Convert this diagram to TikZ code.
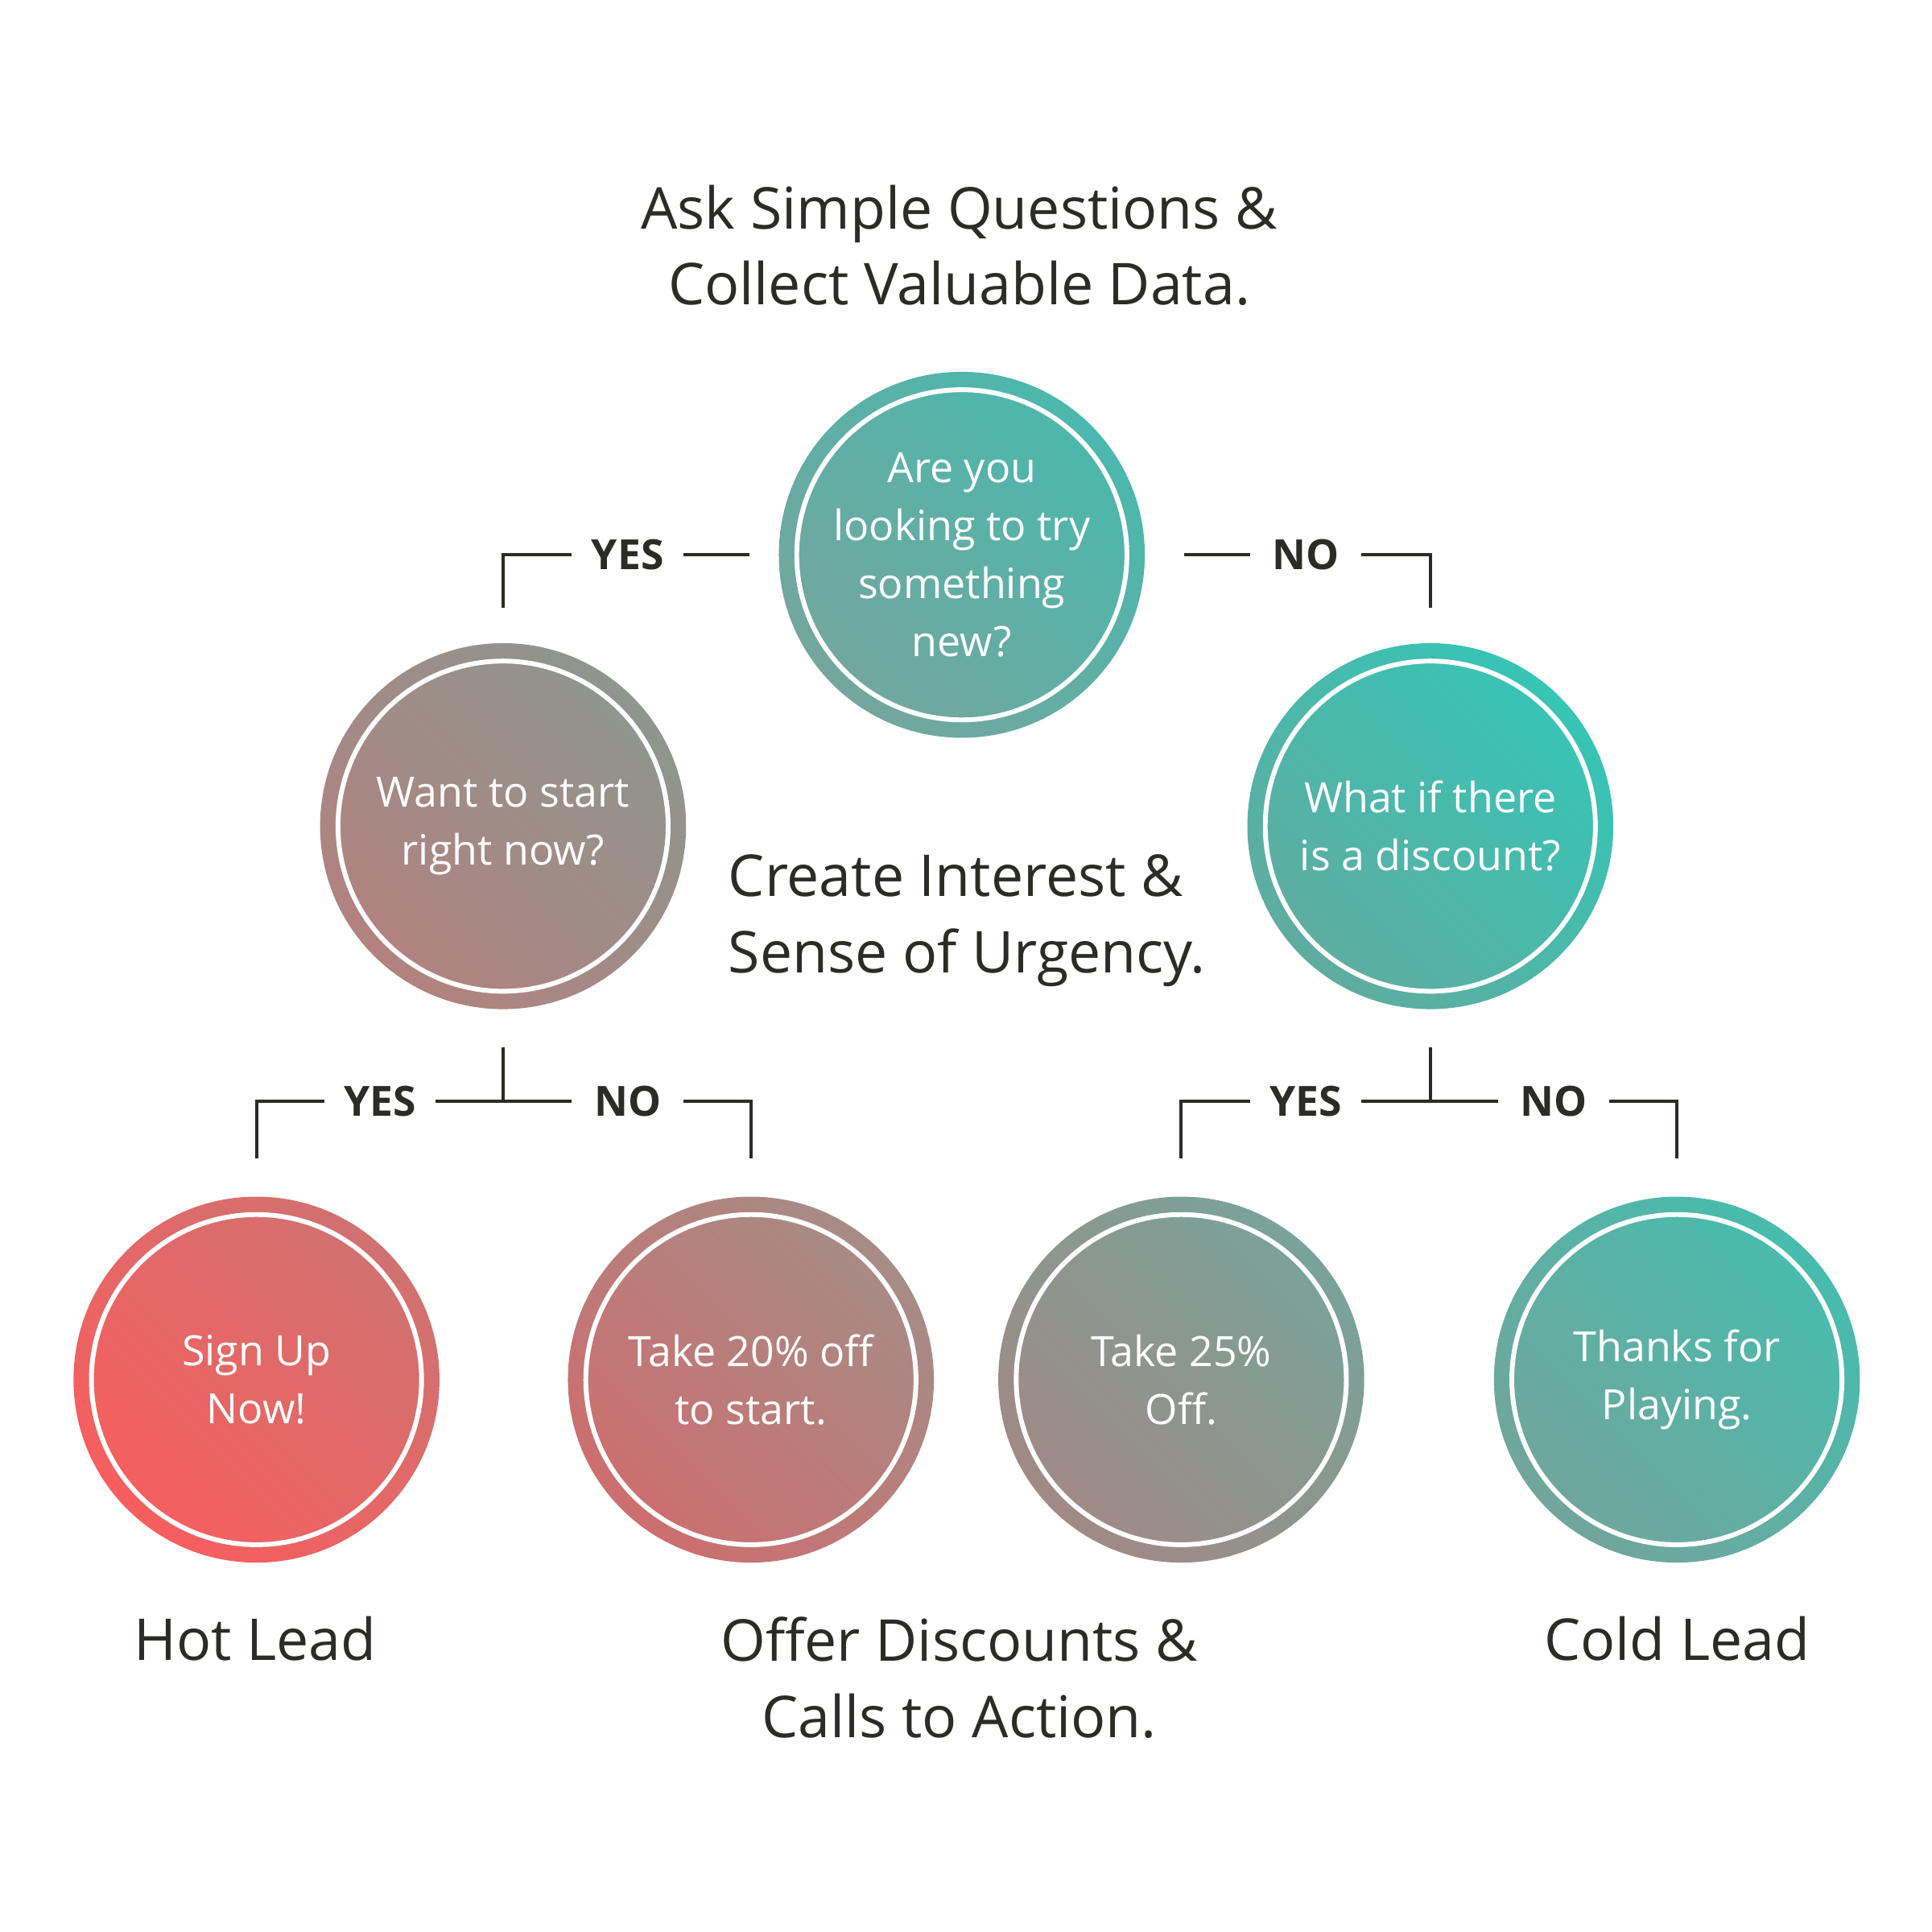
\documentclass[tikz,border=0pt]{standalone}
\usepackage{fontspec}
\setmainfont{Open Sans}
\usetikzlibrary{positioning}
\definecolor{ink}{HTML}{2B2B27}
\definecolor{askhi}{HTML}{4BB8AD}
\definecolor{asklo}{HTML}{74A69D}
\definecolor{wanthi}{HTML}{8E968E}
\definecolor{wantlo}{HTML}{B2827F}
\definecolor{dischi}{HTML}{36C5B6}
\definecolor{disclo}{HTML}{5FAC9F}
\definecolor{signhi}{HTML}{D07270}
\definecolor{signlo}{HTML}{F75E5E}
\definecolor{twentyhi}{HTML}{A68C86}
\definecolor{twentylo}{HTML}{CD6E6F}
\definecolor{quarterhi}{HTML}{79A399}
\definecolor{quarterlo}{HTML}{A18985}
\definecolor{thankshi}{HTML}{47BCAE}
\definecolor{thankslo}{HTML}{72A59B}

\begin{document}
\begin{tikzpicture}[
      every node/.append style={font=\fontsize{9.6}{13.35}\selectfont},
      bubble/.style={circle, minimum size=2.955cm, inner sep=0pt, text=white, align=center,
        path picture={\draw[white, line width=1.1pt] (path picture bounding box.center) circle (1.333cm);}},
      tone/.style={top color=#1hi, bottom color=#1lo, shading angle=-45},
      answer/.style={font=\bfseries\fontsize{9.55}{12}\selectfont, text=ink, minimum width=0.886cm, inner sep=0pt},
      link/.style={draw=ink, line width=0.75pt},
      caption/.style={font=\fontsize{13.25}{17.5}\selectfont, text=ink, align=center}]
    \fill[white] (0,0) rectangle (15.6,15.6);
    \useasboundingbox (0,0) rectangle (15.6,15.6);

    \node (ask) [bubble, tone=ask] at (7.766,11.12) {Are you\\looking to try\\something\\new?};
    \node (want) [bubble, tone=want] at (4.062,8.929) {Want to start\\right now?};
    \node (disc) [bubble, tone=disc] at (11.549,8.929) {What if there\\is a discount?};
    \node (signup) [bubble, tone=sign] at (2.071,4.46) {Sign Up\\Now!};
    \node (take20) [bubble, tone=twenty] at (6.063,4.46) {Take 20\% off\\to start.};
    \node (take25) [bubble, tone=quarter] at (9.538,4.46) {Take 25\%\\Off.};
    \node (thanks) [bubble, tone=thanks] at (13.540,4.46) {Thanks for\\Playing.};

    \node (yesA) [answer] at (5.068,11.12) {YES};
    \node (noA) [answer] at (10.544,11.12) {NO};
    \node (yesB) [answer] at (3.067,6.709) {YES};
    \node (noB) [answer] at (5.068,6.709) {NO};
    \node (yesC) [answer] at (10.544,6.709) {YES};
    \node (noC) [answer] at (12.545,6.709) {NO};

    \draw[link] (yesA.west) -| ([yshift=0.28cm]want.north);
    \draw[link] (yesA.east) -- ([xshift=-0.23cm]ask.west);
    \draw[link] ([xshift=0.31cm]ask.east) -- (noA.west);
    \draw[link] (noA.east) -| ([yshift=0.28cm]disc.north);

    \draw[link] ([yshift=-0.30cm]want.south) -- (want.south |- yesB.east);
    \draw[link] (yesB.west) -| ([yshift=0.30cm]signup.north);
    \draw[link] (yesB.east) -- (noB.west);
    \draw[link] (noB.east) -| ([yshift=0.30cm]take20.north);

    \draw[link] ([yshift=-0.30cm]disc.south) -- (disc.south |- yesC.east);
    \draw[link] (yesC.west) -| ([yshift=0.30cm]take25.north);
    \draw[link] (yesC.east) -- (noC.west);
    \draw[link] (noC.east) -| ([yshift=0.30cm]thanks.north);

    \node (goal) [caption] at (7.746,13.619) {Ask Simple Questions \&\\Collect Valuable Data.};
    \node (urge) [caption, align=left, anchor=west, inner sep=0pt] at (5.874,8.165) {Create Interest \&\\Sense of Urgency.};
    \node (hot) [caption] at (2.061,2.366) {Hot Lead};
    \node (offer) [caption] at (7.746,2.052) {Offer Discounts \&\\Calls to Action.};
    \node (cold) [caption] at (13.540,2.366) {Cold Lead};
\end{tikzpicture}
\end{document}
